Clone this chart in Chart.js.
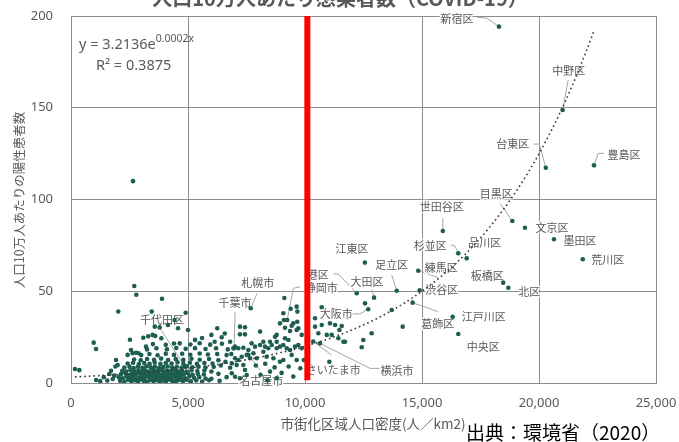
<!DOCTYPE html>
<html>
<head>
<meta charset="utf-8">
<script src="https://cdn.jsdelivr.net/npm/chart.js@4/dist/chart.umd.min.js"></script>
<style>
  html, body { margin: 0; padding: 0; background: #ffffff; }
  #wrap { width: 679px; height: 442px; position: relative; }
</style>
</head>
<body>
<div id="wrap"><canvas id="c" width="679" height="442"></canvas></div>
<script>
// ---- Data: urbanised-area population density (people/km2) vs. positive cases per 100k ----

// Named municipalities
const namedPlaces = ['新宿区','中野区','台東区','豊島区','目黒区','文京区','墨田区','荒川区','世田谷区','杉並区',
  '品川区','江東区','足立区','練馬区','渋谷区','葛飾区','板橋区','北区','江戸川区','中央区',
  '大田区','港区','静岡市','大阪市','さいたま市','横浜市','札幌市','千葉市','千代田区','名古屋市'];
const namedDensity = [18290,21010,20290,22350,18860,19400,20640,21870,15890,16550,
  16910,12560,13920,14840,14900,14600,18470,18690,16310,16550,
  12950,12210,9240,12700,10350,10640,7680,6970,4870,7580];
const namedRate = [194.2,148.8,117.3,118.6,88.3,84.6,78.3,67.4,82.8,70.7,
  68.0,65.6,50.3,61.2,50.5,43.8,54.7,51.9,36.1,26.7,
  46.5,48.9,34.3,40.2,22.6,21.6,40.7,18.9,8.9,15.3];

// Other municipalities [density, cases per 100k]
const otherPoints = [
  [170,7.6],[355,7],[970,22],[1070,18.5],[2020,39],[2650,110],[2705,52.9],[2790,48.1],[3890,45.9],[3450,38.9],
  [4900,38.3],[3580,30.7],[3790,30.3],[4145,31.6],[4430,34.3],[4575,29.8],[5000,28.9],[3860,24.4],[4645,21.6],
  [2520,23.6],[3090,24.7],[3300,25.5],[3490,26.2],[3600,25.6],
  [1070,1.6],[1640,4.9],[1710,6.7],[1780,2.2],[1400,3.2],[1250,1],[1550,1.3],[1850,4],[1900,9],[1995,9.8],
  [1925,12.5],[2420,15.3],[2635,16.2],[2780,16.5],[2890,16.2],[3205,19.8],[2565,18],
  [2100,1.2],[2280,0.7],[2430,1.8],[2580,0.9],[2720,1.5],[2860,0.6],[2990,1.9],[3120,1.1],[3260,0.5],[3390,1.6],
  [3530,0.9],[3660,1.7],[3790,0.6],[3920,1.4],[4060,0.8],[4200,1.9],[4330,1.1],[4480,0.7],[4620,1.6],[4780,1.0],
  [4930,1.8],[5120,0.9],[5350,1.4],[5600,0.8],
  [2040,3.1],[2210,2.6],[2370,3.6],[2520,2.8],[2670,3.4],[2810,2.5],[2950,3.3],[3080,2.7],[3210,3.8],[3340,2.9],
  [3470,3.5],[3610,2.6],[3740,3.2],[3870,3.9],[4000,2.7],[4140,3.4],[4280,2.6],[4420,3.7],[4570,2.9],[4720,3.3],
  [4880,2.5],[5060,3.6],[5260,2.8],[5480,3.2],[5750,2.4],
  [2130,4.8],[2330,5.2],[2480,4.4],[2630,5.0],[2770,4.6],[2910,5.4],[3040,4.5],[3170,5.1],[3300,4.3],[3430,5.3],
  [3570,4.7],[3700,5.0],[3830,4.4],[3960,5.2],[4090,4.6],[4230,5.4],[4370,4.8],[4510,4.3],[4660,5.1],[4820,4.7],
  [5000,5.3],[5200,4.5],[5420,5.0],[5680,4.6],
  [2190,6.6],[2360,6.2],[2540,7.0],[2700,6.4],[2880,6.9],[3020,6.1],[3180,6.8],[3330,6.3],[3490,7.1],[3640,6.5],
  [3790,6.9],[3940,6.2],[4090,6.8],[4250,6.4],[4410,7.0],[4580,6.3],[4750,6.7],[4930,6.1],[5150,6.9],[5400,6.5],
  [5700,6.8],[6000,6.3],
  [2280,8.4],[2500,8.9],[2680,8.2],[2860,8.8],[3050,8.3],[3220,9.1],[3400,8.5],[3580,8.9],[3760,8.2],[3950,8.7],
  [4130,9.0],[4320,8.4],[4520,8.8],[4720,8.3],[4950,9.1],[5180,8.6],[5450,8.9],[5750,8.4],[6100,8.8],
  [2420,10.6],[2650,11.0],[2900,10.3],[3130,10.9],[3360,10.5],[3580,11.2],[3820,10.4],[4050,10.9],[4300,10.6],[4550,11.3],
  [4800,10.5],[5080,11.0],[5380,10.4],[5700,10.9],[6050,10.6],
  [2700,12.8],[2980,12.4],[3250,13.1],[3550,12.6],[3850,13.3],[4150,12.5],[4480,13.0],[4800,12.6],[5150,13.2],[5500,12.7],
  [5900,13.1],[6300,12.4],
  [3000,15.2],[3350,15.8],[3700,15.1],[4050,16.0],[4400,15.3],[4750,15.9],[5100,15.4],[5500,16.1],[5850,15.5],[6250,15.8],
  [6650,15.2],
  [3250,18.3],[3650,18.9],[4100,18.4],[4500,19.1],[4900,18.6],[5300,19.0],[5750,18.5],[6200,18.9],[6700,18.3],
  [3500,21.2],[4050,20.8],[4400,21.5],[5100,21.0],[5500,21.7],[5950,20.9],[6450,21.4],
  [2900,2.1],[3010,4.0],[3150,1.7],[3230,6.0],[3380,2.2],[3450,4.1],[3560,1.9],[3680,3.9],[3720,6.0],[3850,2.0],
  [3990,4.2],[4030,1.6],[4170,6.1],[4240,2.1],[4300,4.0],[4450,1.5],[4530,5.9],[2600,2.0],[2760,5.8],[3100,7.5],
  [3500,7.7],[3880,7.6],[4380,7.8],[2550,3.9],[4600,2.2],[4700,4.1],
  [6250,29.8],[6000,26.2],[6570,27],[6140,22.5],[6440,24.9],[5600,24.5],[5300,23.5],[6800,22.5],[6850,15.8],[6600,11.5],
  [6400,9.5],[6800,8.3],[6300,5],[6650,3.2],[6000,2.3],[6350,1.2],[5900,1.5],
  [7220,30.7],[7435,30.4],[7220,26.5],[7435,26.5],[8080,28],[8720,25.2],[9145,24.4],[9290,23.4],[7720,21.6],[7865,19.8],
  [8080,20.7],[8220,22.5],[8290,19.8],[8430,18.9],[8580,20.7],[8790,18.9],[8930,19.8],[9075,20.7],[9220,18.9],[9360,18],
  [9575,19.8],[9715,20.7],[9860,18.9],[6940,18.9],[7150,18.9],[7365,19.2],[7580,18],[7010,13.5],[7150,12.5],[6870,10.7],
  [7080,9.8],[7295,14.3],[7510,15.3],[7650,13.5],[7795,16.2],[7935,13.5],[8220,17],[8360,14.3],[8650,13.5],[8930,11.6],
  [9075,12.5],[9430,15.3],[9645,12.5],[7365,9.8],[7435,7.1],[7510,4.4],[7010,3.4],[6870,5.3],[7220,2.6],[8505,6.2],
  [8790,2.6],[9145,30.1],[9430,31.2],[9360,28.3],[9715,29.8],[8930,32.5],[9100,34.3],[9117,46.3],[9390,40.5],[9645,41.6],
  [9675,38.9],[9075,38],[9500,32.5],[9670,33.4],[9645,28.9],[9860,26.2],[8790,26.2],[8505,22.5],[8790,22.5],[7010,19.8],
  [7900,9.5],[8100,4.5],[8300,10.5],[8700,8.5],[9000,5.5],[9300,9],[9500,3.5],[9800,8],[9950,12.5],[8400,1.5],
  [10715,41.3],[10430,35.3],[10715,31.6],[11070,32.5],[11285,31.6],[11470,28.9],[11570,31.1],[10430,30.7],[10570,27.1],[10930,26.2],
  [11140,26.2],[11425,24.4],[11710,22.5],[12565,43.4],[13705,39.8],[14175,30.7],[12850,27.1],[12490,23.4],[12425,19.5],[11640,22.5],
  [11040,11.6]
];

// Axis ticks
const xTicks = [0, 5000, 10000, 15000, 20000, 25000];
const yTicks = [0, 50, 100, 150, 200];

// Exponential fit y = a·e^(b·x), shown as "y = 3.2136e^0.0002x"
const TREND_A = 3.2136;
const TREND_B = 0.000183;
const TREND_FROM = 170;
const TREND_TO = 22350;
const TREND_R2 = '0.3875';

// Reference density marked in red
const THRESHOLD_DENSITY = 10100;

// ---- Label placement (pixel offsets from each named point) ----
const labelPlacement = [
  {dx:-42, dy:-8,  lead:[[-22,-9.4],[-12,-8.4]]},   // 新宿区
  {dx:6,   dy:-39, lead:[[5.6,-30]]},                // 中野区
  {dx:-33, dy:-24, lead:[[-12.4,-23.7],[-6.4,-23.7]]}, // 台東区
  {dx:30,  dy:-11, lead:[[10,-12],[4.3,-12]]},       // 豊島区
  {dx:-16, dy:-27, lead:[[-12.3,-17.7]]},            // 目黒区
  {dx:27,  dy:0},                                    // 文京区
  {dx:26,  dy:1},                                    // 墨田区
  {dx:25,  dy:0},                                    // 荒川区
  {dx:-1,  dy:-24, lead:[[0,-12.7]]},                // 世田谷区
  {dx:-28, dy:-7,  lead:[[-7.6,-8.3],[-3.3,-7.3]]},  // 杉並区
  {dx:18,  dy:-15},                                  // 品川区
  {dx:-13, dy:-14},                                  // 江東区
  {dx:-5,  dy:-26, lead:[[-5,-15.7]]},               // 足立区
  {dx:23,  dy:-3,  lead:[[20,7]]},                   // 練馬区
  {dx:22,  dy:-1},                                   // 渋谷区
  {dx:25,  dy:21,  lead:[[25.3,9]]},                 // 葛飾区
  {dx:-16, dy:-7},                                   // 板橋区
  {dx:21,  dy:4},                                    // 北区
  {dx:31,  dy:0},                                    // 江戸川区
  {dx:25,  dy:13},                                   // 中央区
  {dx:-7,  dy:-16, lead:[[-2,-8]]},                  // 大田区
  {dx:-39, dy:-18, lead:[[-23.4,-19.3],[-18.4,-19.3]]}, // 港区
  {dx:34,  dy:-32, lead:[[12.7,-33.3],[6,-31.7]]},   // 静岡市
  {dx:-32, dy:5,   lead:[[-16.3,4.7],[-8.3,4.7]]},   // 大阪市
  {dx:20,  dy:28,  lead:[[18.4,13.5]]},              // さいたま市
  {dx:77,  dy:27,  lead:[[60,25],[50,25]]},          // 横浜市
  {dx:7,   dy:-26, lead:[[6.3,-15]]},                // 札幌市
  {dx:1,   dy:-46, lead:[[1,-36.3]]},                // 千葉市
  {dx:-23, dy:-47, lead:[[-25,-38.4]]},              // 千代田区
  {dx:13,  dy:26,  lead:[[11.7,15]]}                 // 名古屋市
];

// ---- Build datasets ----
const scatterData = namedDensity.map((x, i) => ({x, y: namedRate[i]}))
  .concat(otherPoints.map(p => ({x: p[0], y: p[1]})));

const trendData = [];
const TREND_STEPS = 80;
for (let i = 0; i <= TREND_STEPS; i++) {
  const x = TREND_FROM + (TREND_TO - TREND_FROM) * i / TREND_STEPS;
  trendData.push({x, y: TREND_A * Math.exp(TREND_B * x)});
}

const thresholdData = [{x: THRESHOLD_DENSITY, y: 200}, {x: THRESHOLD_DENSITY, y: 1.5}];

const GRAY = '#595959';
const GRID = '#8c8c8c';

// Tick labels may overhang the plot edges; keep the plot area fixed
function noOverhang(s) {
  s.paddingLeft = 0; s.paddingRight = 0; s.paddingTop = 0; s.paddingBottom = 0;
}

// Labels, leader lines and free text
const textPlugin = {
  id: 'textLayer',
  beforeDatasetsDraw(chart) {
    const ctx = chart.ctx, xs = chart.scales.x, ys = chart.scales.y;
    ctx.save();
    ctx.strokeStyle = '#a6a6a6';
    ctx.lineWidth = 1;
    namedPlaces.forEach((name, i) => {
      const p = labelPlacement[i];
      if (!p.lead) return;
      const px = xs.getPixelForValue(namedDensity[i]);
      const py = ys.getPixelForValue(namedRate[i]);
      ctx.beginPath();
      p.lead.forEach((o, k) => {
        if (k === 0) ctx.moveTo(px + o[0], py + o[1]);
        else ctx.lineTo(px + o[0], py + o[1]);
      });
      ctx.lineTo(px, py);
      ctx.stroke();
    });
    ctx.font = '11px "Noto Sans CJK JP"';
    ctx.textAlign = 'center';
    ctx.textBaseline = 'middle';
    ctx.lineJoin = 'round';
    namedPlaces.forEach((name, i) => {
      const p = labelPlacement[i];
      const px = xs.getPixelForValue(namedDensity[i]) + p.dx;
      const py = ys.getPixelForValue(namedRate[i]) + p.dy;
      ctx.lineWidth = 3;
      ctx.strokeStyle = 'rgba(255,255,255,0.85)';
      ctx.strokeText(name, px, py);
      ctx.fillStyle = GRAY;
      ctx.fillText(name, px, py);
    });
    ctx.restore();
  },
  afterDraw(chart) {
    const ctx = chart.ctx;
    ctx.save();
    // Chart title
    ctx.fillStyle = GRAY;
    ctx.font = 'bold 20px "Noto Sans CJK JP"';
    ctx.textAlign = 'center';
    ctx.textBaseline = 'middle';
    ctx.fillText('人口10万人あたり感染者数（COVID-19）', 340, -2);

    // Fit equation
    ctx.textAlign = 'left';
    ctx.font = '14.5px "Noto Sans"';
    const eq = 'y = ' + TREND_A + 'e';
    ctx.fillText(eq, 79, 45);
    const w = ctx.measureText(eq).width;
    ctx.font = '10.5px "Noto Sans"';
    ctx.fillText('0.0002x', 79 + w, 39);
    ctx.font = '14.5px "Noto Sans"';
    ctx.fillText('R² = ' + TREND_R2, 96, 66);

    // Axis titles
    ctx.textAlign = 'center';
    ctx.font = '13.5px "Noto Sans CJK JP"';
    ctx.fillText('市街化区域人口密度(人／km2)', 373, 424);
    ctx.save();
    ctx.translate(19, 200);
    ctx.rotate(-Math.PI / 2);
    ctx.font = '12.5px "Noto Sans CJK JP"';
    ctx.fillText('人口10万人あたりの陽性患者数', 0, 0);
    ctx.restore();

    // Source
    ctx.fillStyle = '#000000';
    ctx.textAlign = 'left';
    ctx.font = '19px "Noto Sans CJK JP"';
    ctx.fillText('出典：環境省（2020）', 466, 433);
    ctx.restore();
  }
};

new Chart(document.getElementById('c'), {
  type: 'scatter',
  data: {
    datasets: [
      { type: 'line', label: 'threshold', data: thresholdData, borderColor: '#ff0000', borderWidth: 6,
        pointRadius: 0, borderCapStyle: 'butt', order: 0 },
      { type: 'line', label: 'trend', data: trendData, borderColor: '#3a3a3a', borderWidth: 1.6,
        borderDash: [1.6, 3], pointRadius: 0, tension: 0, order: 1 },
      { label: 'municipalities', data: scatterData, backgroundColor: '#1d5e50', borderWidth: 0,
        pointRadius: 2.3, order: 2 }
    ]
  },
  options: {
    responsive: false,
    animation: false,
    devicePixelRatio: 1,
    locale: 'en-US',
    layout: { padding: { top: 16, right: 23, bottom: 4, left: 0 } },
    plugins: { legend: { display: false }, tooltip: { enabled: false }, title: { display: false } },
    scales: {
      x: {
        type: 'linear', min: xTicks[0], max: xTicks[xTicks.length - 1],
        afterBuildTicks(s) { s.ticks = xTicks.map(v => ({value: v})); },
        afterFit(s) { s.height = 55; noOverhang(s); },
        ticks: { color: GRAY, font: { family: 'Noto Sans', size: 13 }, padding: 12 },
        grid: { color: GRID, lineWidth: 1, drawTicks: false },
        border: { color: GRID, width: 1 }
      },
      y: {
        type: 'linear', min: yTicks[0], max: yTicks[yTicks.length - 1],
        afterBuildTicks(s) { s.ticks = yTicks.map(v => ({value: v})); },
        afterFit(s) { s.width = 71; noOverhang(s); },
        ticks: { color: GRAY, font: { family: 'Noto Sans', size: 13 }, padding: 18 },
        grid: { color: GRID, lineWidth: 1, drawTicks: false },
        border: { color: GRID, width: 1 }
      }
    }
  },
  plugins: [textPlugin]
});
</script>
</body>
</html>
